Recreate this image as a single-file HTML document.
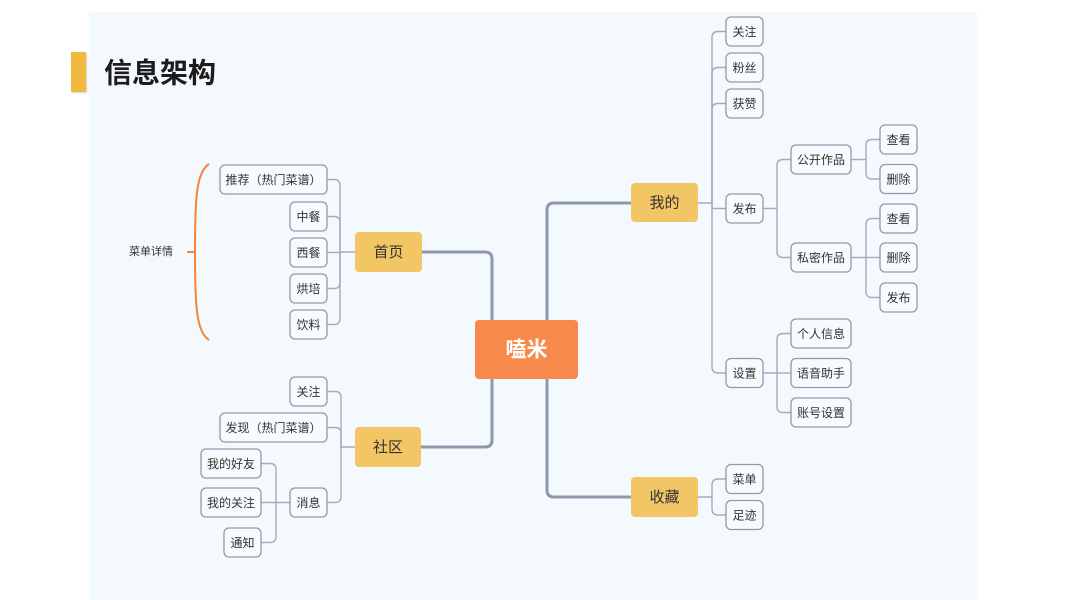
<!DOCTYPE html>
<html><head><meta charset="utf-8"><style>
html,body{margin:0;padding:0;background:#fff;}
svg{display:block;}
text{font-family:"Liberation Sans","Noto Sans CJK SC",sans-serif;}
</style></head><body>
<svg width="1065" height="600" viewBox="0 0 1065 600" xmlns="http://www.w3.org/2000/svg">
<defs>
<filter id="sh" x="-50%" y="-50%" width="200%" height="200%"><feDropShadow dx="1" dy="1" stdDeviation="1" flood-color="#000" flood-opacity="0.18"/></filter>
</defs>
<rect x="0" y="0" width="1065" height="600" fill="#ffffff"/>
<rect x="89" y="12" width="888" height="588" fill="#f4f9fd"/>
<rect x="71" y="52" width="15" height="40" fill="#efb943" filter="url(#sh)"/>
<text x="104" y="73" font-size="28" font-weight="bold" fill="#1c1c1c" dominant-baseline="central">信息架构</text>

<!-- orange brace -->
<g fill="none" stroke="#f5833c" stroke-width="2">
<path d="M209,164 C196,172 195,200 195,252 C195,304 196,332 209,340"/>
<path d="M187,252 H195"/>
</g>
<text x="151" y="252" font-size="11" fill="#333" text-anchor="middle" dominant-baseline="central">菜单详情</text>

<!-- thick trunks -->
<g fill="none" stroke="#8d99ab" stroke-width="3">
<path d="M492,320 V259 Q492,252 485,252 H422"/>
<path d="M492,379 V440 Q492,447 485,447 H421"/>
<path d="M547,320 V210 Q547,203 554,203 H631"/>
<path d="M547,379 V490 Q547,497 554,497 H631"/>
</g>

<!-- thin connectors -->
<g fill="none" stroke="#a2acbc" stroke-width="1.4">
<!-- 首页 -->
<path d="M355,252 H340 V185.5 Q340,179.5 334,179.5 H327"/>
<path d="M340,252 V222.5 Q340,216.5 334,216.5 H327"/>
<path d="M340,252.5 H327"/>
<path d="M340,252 V282.5 Q340,288.5 334,288.5 H327"/>
<path d="M340,252 V318.5 Q340,324.5 334,324.5 H327"/>
<!-- 社区 -->
<path d="M355,447 H341 V397.5 Q341,391.5 335,391.5 H327"/>
<path d="M341,447 V433.5 Q341,427.5 335,427.5 H327"/>
<path d="M341,447 V496.5 Q341,502.5 335,502.5 H327"/>
<!-- 消息 -->
<path d="M290,502.5 H276 V469.5 Q276,463.5 270,463.5 H261"/>
<path d="M276,502.5 H261"/>
<path d="M276,502.5 V536.5 Q276,542.5 270,542.5 H261"/>
<!-- 我的 -->
<path d="M698,203 H712 V37.5 Q712,31.5 718,31.5 H726"/>
<path d="M712,203 V73.5 Q712,67.5 718,67.5 H726"/>
<path d="M712,203 V109.5 Q712,103.5 718,103.5 H726"/>
<path d="M712,203 V208.5 H726"/>
<path d="M712,203 V367 Q712,373 718,373 H726"/>
<!-- 发布 -->
<path d="M763,208.5 H777 V165.5 Q777,159.5 783,159.5 H791"/>
<path d="M777,208.5 V251.5 Q777,257.5 783,257.5 H791"/>
<!-- 公开作品 -->
<path d="M851,159.5 H866 V145.5 Q866,139.5 872,139.5 H880"/>
<path d="M866,159.5 V173 Q866,179 872,179 H880"/>
<!-- 私密作品 -->
<path d="M851,257.5 H866 V224.5 Q866,218.5 872,218.5 H880"/>
<path d="M866,257.5 H880"/>
<path d="M866,257.5 V291.5 Q866,297.5 872,297.5 H880"/>
<!-- 设置 -->
<path d="M763,373 H777 V339.5 Q777,333.5 783,333.5 H791"/>
<path d="M777,373 H791"/>
<path d="M777,373 V406.5 Q777,412.5 783,412.5 H791"/>
<!-- 收藏 -->
<path d="M698,497 H712 V485 Q712,479 718,479 H726"/>
<path d="M712,497 V509 Q712,515 718,515 H726"/>
</g>

<!-- small nodes -->
<g fill="#f8fbfe" stroke="#8f9aac" stroke-width="1.3">
<rect x="220" y="165" width="107" height="29" rx="5"/>
<rect x="290" y="202" width="37" height="29" rx="5"/>
<rect x="290" y="238" width="37" height="29" rx="5"/>
<rect x="290" y="274" width="37" height="29" rx="5"/>
<rect x="290" y="310" width="37" height="29" rx="5"/>
<rect x="290" y="377" width="37" height="29" rx="5"/>
<rect x="220" y="413" width="107" height="29" rx="5"/>
<rect x="290" y="488" width="37" height="29" rx="5"/>
<rect x="201" y="449" width="60" height="29" rx="5"/>
<rect x="201" y="488" width="60" height="29" rx="5"/>
<rect x="224" y="528" width="37" height="29" rx="5"/>
<rect x="726" y="17" width="37" height="29" rx="5"/>
<rect x="726" y="53" width="37" height="29" rx="5"/>
<rect x="726" y="89" width="37" height="29" rx="5"/>
<rect x="726" y="194" width="37" height="29" rx="5"/>
<rect x="726" y="358.5" width="37" height="29" rx="5"/>
<rect x="791" y="145" width="60" height="29" rx="5"/>
<rect x="791" y="243" width="60" height="29" rx="5"/>
<rect x="880" y="125" width="37" height="29" rx="5"/>
<rect x="880" y="164.5" width="37" height="29" rx="5"/>
<rect x="880" y="204" width="37" height="29" rx="5"/>
<rect x="880" y="243" width="37" height="29" rx="5"/>
<rect x="880" y="283" width="37" height="29" rx="5"/>
<rect x="791" y="319" width="60" height="29" rx="5"/>
<rect x="791" y="358.5" width="60" height="29" rx="5"/>
<rect x="791" y="398" width="60" height="29" rx="5"/>
<rect x="726" y="464.5" width="37" height="29" rx="5"/>
<rect x="726" y="500.5" width="37" height="29" rx="5"/>
</g>
<g font-size="12" fill="#333" text-anchor="middle" dominant-baseline="central">
<text x="273.5" y="180">推荐（热门菜谱）</text>
<text x="308.5" y="217">中餐</text>
<text x="308.5" y="253">西餐</text>
<text x="308.5" y="289">烘培</text>
<text x="308.5" y="325">饮料</text>
<text x="308.5" y="392">关注</text>
<text x="273.5" y="428">发现（热门菜谱）</text>
<text x="308.5" y="503">消息</text>
<text x="231" y="464">我的好友</text>
<text x="231" y="503">我的关注</text>
<text x="242.5" y="543">通知</text>
<text x="744.5" y="32">关注</text>
<text x="744.5" y="68">粉丝</text>
<text x="744.5" y="104">获赞</text>
<text x="744.5" y="209">发布</text>
<text x="744.5" y="373.5">设置</text>
<text x="821" y="160">公开作品</text>
<text x="821" y="258">私密作品</text>
<text x="898.5" y="140">查看</text>
<text x="898.5" y="179.5">删除</text>
<text x="898.5" y="219">查看</text>
<text x="898.5" y="258">删除</text>
<text x="898.5" y="298">发布</text>
<text x="821" y="334">个人信息</text>
<text x="821" y="373.5">语音助手</text>
<text x="821" y="413">账号设置</text>
<text x="744.5" y="479.5">菜单</text>
<text x="744.5" y="515.5">足迹</text>
</g>

<!-- first level -->
<g fill="#f2c565">
<rect x="355" y="232" width="67" height="40" rx="4"/>
<rect x="355" y="427" width="66" height="40" rx="4"/>
<rect x="631" y="183" width="67" height="39" rx="4"/>
<rect x="631" y="477" width="67" height="40" rx="4"/>
</g>
<g font-size="15" fill="#333" text-anchor="middle" dominant-baseline="central">
<text x="388.5" y="252.5">首页</text>
<text x="388" y="447.5">社区</text>
<text x="664.5" y="203">我的</text>
<text x="664.5" y="497.5">收藏</text>
</g>

<!-- center -->
<rect x="475" y="320" width="103" height="59" rx="4" fill="#f78a4a"/>
<text x="526.5" y="350" font-size="21" font-weight="bold" fill="#ffffff" text-anchor="middle" dominant-baseline="central">嗑米</text>
</svg>
</body></html>
